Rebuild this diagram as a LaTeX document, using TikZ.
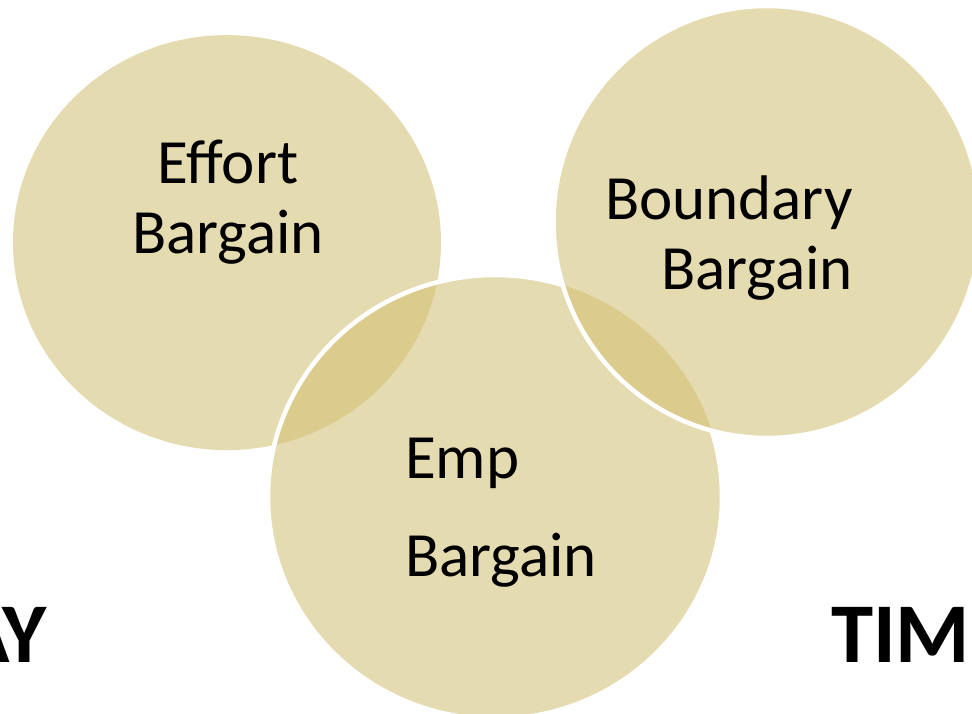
\documentclass[tikz,border=0pt]{standalone}
\usepackage{fontspec}
\setmainfont{Carlito}
\definecolor{vbase}{RGB}{228,219,177}
\definecolor{vlens}{RGB}{219,203,140}
\begin{document}
\begin{tikzpicture}[x=1pt,y=-1pt,
  lbl/.style={font=\fontsize{63}{75}\selectfont, inner sep=0pt, anchor=base},
  big/.style={font=\fontsize{85}{100}\selectfont\bfseries, inner sep=0pt},
  rim/.style={draw=white, line width=4.5pt}]
\useasboundingbox (0,0) rectangle (972,714);
\coordinate (ce) at (227,242.6);
\coordinate (cm) at (495,497);
\coordinate (cb) at (767,222);
% Effort circle (bottom layer)
\fill[vbase] (ce) ellipse [x radius=214pt, y radius=207.5pt];
% Emp circle
\fill[vbase] (cm) ellipse [x radius=227pt, y radius=222pt];
\begin{scope}
  \clip (cm) ellipse [x radius=227pt, y radius=222pt];
  \fill[vlens] (ce) ellipse [x radius=214pt, y radius=207.5pt];
\end{scope}
\draw[rim] (cm) ellipse [x radius=227pt, y radius=222pt];
% Boundary circle (top layer)
\fill[vbase] (cb) ellipse [x radius=213.5pt, y radius=216pt];
\begin{scope}
  \clip (cb) ellipse [x radius=213.5pt, y radius=216pt];
  \fill[vlens] (cm) ellipse [x radius=227pt, y radius=222pt];
\end{scope}
\draw[rim] (cb) ellipse [x radius=213.5pt, y radius=216pt];
% Labels
\node[lbl] (ef1) at (228,183.5) {Effort};
\node[lbl] (ef2) at (228,254) {Bargain};
\node[lbl, anchor=base east] (bo1) at (853,219.5) {Boundary};
\node[lbl, anchor=base east] (bo2) at (853,289) {Bargain};
\node[lbl, anchor=base west] (em1) at (405,478) {Emp};
\node[lbl, anchor=base west] (em2) at (405,576) {Bargain};
\node[big, anchor=base east] (ay) at (47,662) {AY};
\node[big, anchor=base west] (tim) at (831,662) {TIM};
\end{tikzpicture}
\end{document}
